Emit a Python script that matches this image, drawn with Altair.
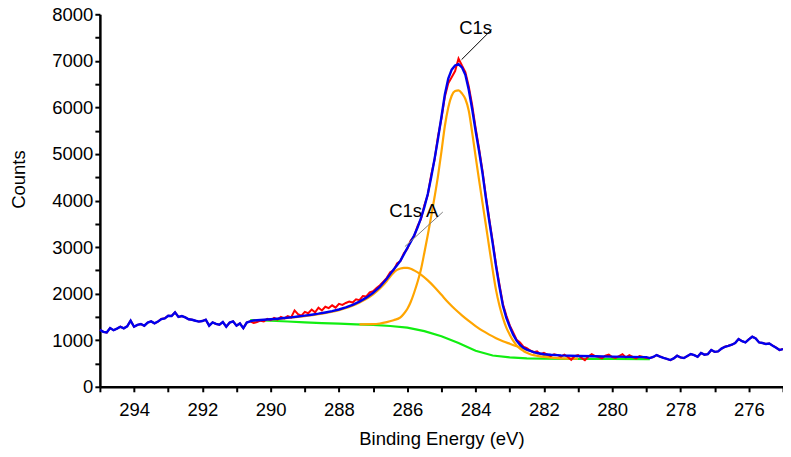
import altair as alt
import pandas as pd

# ---------------- data ----------------
# raw spectrum (red), one value per 0.1 eV from 295.0 eV down to 275.0 eV
data_counts = [
    1225, 1180, 1165, 1262, 1215, 1250, 1290, 1255, 1300, 1419,
    1290, 1330, 1348, 1312, 1380, 1405, 1362, 1400, 1455, 1470,
    1527, 1520, 1598, 1500, 1520, 1490, 1450, 1440, 1419, 1400,
    1412, 1440, 1312, 1383, 1350, 1333, 1390, 1290, 1380, 1405,
    1312, 1360, 1260, 1380, 1405, 1370,
    1390, 1420, 1405, 1460, 1430, 1480, 1445, 1500, 1470, 1520,
    1490, 1640, 1560, 1530, 1610, 1580, 1660, 1600, 1700, 1640,
    1720, 1690, 1750, 1700, 1780, 1760, 1800, 1830, 1810, 1880,
    1860, 1950, 1940, 2030, 2050, 2120, 2180, 2260, 2340, 2460,
    2500, 2650, 2700, 2870, 2960, 3140, 3230, 3450, 3600, 3900,
    4120, 4550, 4880, 5380, 5760, 6230, 6520, 6650, 6780, 7050,
    6900, 6760, 6450, 6050, 5560, 5120, 4650, 4100, 3600, 3130,
    2620, 2190, 1780, 1530, 1320, 1170, 1010, 950, 860, 830,
    780, 740, 760, 700, 730, 690, 660, 700, 680, 650,
    690, 640, 580, 660, 680, 620, 570, 650, 700, 660,
    640, 610, 670, 690, 640, 620, 660, 700, 630, 680,
    640, 610, 660, 640, 620,
    617, 640, 682, 650, 620, 600, 574, 610, 667, 630,
    617, 660, 703, 680, 645, 725, 690, 703, 789, 750,
    760, 820, 860, 880, 903, 940, 1025, 980, 953, 1020,
    1075, 1040, 953, 940, 918, 930, 882, 840, 789, 810,
]
data_E = [round(295.0 - 0.1 * i, 1) for i in range(len(data_counts))]

# fitted envelope (blue) inside the fit region
env_E = [290.5, 290.4, 290.2, 290.0, 289.8, 289.6, 289.4, 289.2, 289.0,
         288.8, 288.6, 288.4, 288.2, 288.0, 287.8, 287.6, 287.4, 287.2, 287.0,
         286.8, 286.6, 286.5, 286.4, 286.3, 286.2, 286.1, 286.0,
         285.9, 285.8, 285.7, 285.6, 285.5, 285.4, 285.3, 285.2, 285.1, 285.0,
         284.9, 284.8, 284.7, 284.6, 284.5, 284.4, 284.3, 284.2, 284.1, 284.0,
         283.9, 283.8, 283.7, 283.6, 283.5, 283.4, 283.3, 283.2, 283.1, 283.0,
         282.9, 282.8, 282.7, 282.6, 282.5, 282.4, 282.3, 282.2,
         282.0, 281.8, 281.5, 281.0, 280.5, 280.0, 279.5, 279.0]
env_counts = [1425, 1430, 1440, 1450, 1462, 1477, 1492, 1510, 1528,
              1548, 1570, 1596, 1625, 1660, 1705, 1760, 1830, 1915, 2020,
              2150, 2320, 2420, 2520, 2610, 2710, 2840, 2980,
              3110, 3250, 3420, 3620, 3860, 4140, 4500, 4900, 5330, 5800,
              6280, 6620, 6810, 6900, 6930, 6860, 6700, 6380, 5960, 5500,
              5070, 4600, 4060, 3560, 3080, 2580, 2140, 1740, 1480, 1290,
              1120, 990, 900, 840, 800, 770, 745, 725,
              700, 688, 675, 662, 655, 648, 642, 638]

# Shirley background (green)
bg_E = [290.6, 290.0, 289.5, 289.0, 288.5, 288.0, 287.5, 287.0, 286.5, 286.0,
        285.5, 285.0, 284.5, 284.0, 283.5, 283.0, 282.5, 282.0, 281.0, 280.0, 278.9]
bg_counts = [1432, 1418, 1402, 1385, 1368, 1355, 1342, 1328, 1305, 1270,
             1195, 1085, 940, 775, 672, 630, 612, 604, 600, 598, 596]

# component C1s (narrow, orange)
c1s_E = [287.4, 287.0, 286.8, 286.6, 286.4, 286.2, 286.1, 286.0,
         285.9, 285.8, 285.7, 285.6, 285.5, 285.4, 285.3, 285.2, 285.1, 285.0,
         284.9, 284.8, 284.7, 284.6, 284.5, 284.4, 284.3, 284.2, 284.1, 284.0,
         283.9, 283.8, 283.7, 283.6, 283.5, 283.4, 283.3, 283.2, 283.1, 283.0,
         282.9, 282.8, 282.7, 282.6, 282.5, 282.4, 282.3, 282.2,
         282.0, 281.8, 281.5, 281.0]
c1s_counts = [1342, 1345, 1360, 1390, 1430, 1490, 1570, 1670,
              1820, 2020, 2250, 2520, 2880, 3260, 3660, 4080, 4530, 5050,
              5600, 6000, 6250, 6350, 6366, 6300, 6180, 5930, 5460, 4950,
              4450, 3960, 3480, 2990, 2510, 2070, 1740, 1480, 1270, 1120,
              990, 890, 820, 770, 730, 700, 680, 665,
              640, 625, 612, 603]

# component C1s A (broad, orange)
c1sa_E = [290.5, 290.0, 289.5, 289.0, 288.5, 288.0, 287.5, 287.0,
          286.8, 286.6, 286.5, 286.4, 286.3, 286.2, 286.1, 286.0,
          285.9, 285.8, 285.6, 285.4, 285.2, 285.0,
          284.8, 284.6, 284.4, 284.2, 284.0,
          283.8, 283.6, 283.4, 283.2, 283.0,
          282.8, 282.6, 282.4, 282.2, 282.0, 281.8]
c1sa_counts = [1425, 1445, 1480, 1518, 1570, 1645, 1775, 1985,
               2110, 2270, 2370, 2450, 2510, 2540, 2555, 2553,
               2535, 2500, 2410, 2285, 2140, 1975,
               1810, 1665, 1535, 1415, 1305,
               1205, 1120, 1045, 980, 925,
               872, 822, 773, 727, 686, 655]

# peak labels and their leader lines
label_text = ["C1s", "C1s A"]
label_E = [284.0, 285.81]
label_counts = [7700, 3770]
leader_E1 = [284.41, 286.07]
leader_c1 = [7026, 3011]
leader_E2 = [283.53, 284.96]
leader_c2 = [7671, 3753]
leader_color = ["black", "#808080"]

x_ticks = list(range(275, 296))
y_ticks = [0, 500, 1000, 1500, 2000, 2500, 3000, 3500, 4000,
           4500, 5000, 5500, 6000, 6500, 7000, 7500, 8000]

# ---------------- frames ----------------
def frame(E, c):
    return pd.DataFrame({"E": E, "counts": c})

raw_df = frame(data_E, data_counts)
left = raw_df[raw_df["E"] > 290.5]
right = raw_df[raw_df["E"] < 279.0]
blue_df = pd.concat([left, frame(env_E, env_counts), right], ignore_index=True)
bg_df = frame(bg_E, bg_counts)
c1s_df = frame(c1s_E, c1s_counts)
c1sa_df = frame(c1sa_E, c1sa_counts)
lab_df = pd.DataFrame({"t": label_text, "E": label_E, "counts": label_counts})
lead_df = pd.DataFrame({"E1": leader_E1, "c1": leader_c1, "E2": leader_E2,
                        "c2": leader_c2, "col": leader_color})

FONT = "Liberation Sans"
FS = 18.5

x_scale = alt.Scale(domain=[275, 295], reverse=True, nice=False, zero=False)
y_scale = alt.Scale(domain=[0, 8000], nice=False, zero=True)

x_axis = alt.Axis(
    values=x_ticks,
    labelExpr="datum.value % 2 == 0 ? format(datum.value, 'd') : ''",
    grid=False, domainColor="black", domainWidth=2.5,
    tickColor="black", tickWidth=2, tickSize=5,
    labelFont=FONT, labelFontSize=FS, labelColor="black",
    labelPadding=9, labelFlush=False, labelOverlap=False,
    title="Binding Energy (eV)", titleFont=FONT, titleFontSize=FS,
    titleFontWeight="normal", titleColor="black",
    titleX=342, titleY=58, titleBaseline="alphabetic", titleAlign="center",
)
y_axis = alt.Axis(
    values=y_ticks,
    labelExpr="datum.value % 1000 == 0 ? format(datum.value, 'd') : ''",
    grid=False, domainColor="black", domainWidth=2.5,
    tickColor="black", tickWidth=2, tickSize=5,
    labelFont=FONT, labelFontSize=FS, labelColor="black",
    labelPadding=2, labelFlush=False, labelOverlap=False,
    title="Counts", titleFont=FONT, titleFontSize=FS,
    titleFontWeight="normal", titleColor="black", titleAngle=270,
    titleX=-75, titleY=165, titleBaseline="alphabetic", titleAlign="center",
)

X = alt.X("E:Q", scale=x_scale, axis=x_axis)
Y = alt.Y("counts:Q", scale=y_scale, axis=y_axis)

green = alt.Chart(bg_df).mark_line(color="#11ee11", strokeWidth=2.2).encode(x=X, y=Y)
broad = alt.Chart(c1sa_df).mark_line(color="#ffa500", strokeWidth=2.2, interpolate="monotone").encode(x=X, y=Y)
narrow = alt.Chart(c1s_df).mark_line(color="#ffa500", strokeWidth=2.2, interpolate="monotone").encode(x=X, y=Y)
red = alt.Chart(raw_df).mark_line(color="#ff0000", strokeWidth=2).encode(x=X, y=Y)
blue = alt.Chart(blue_df).mark_line(color="#0000ee", strokeWidth=2.4).encode(x=X, y=Y)

leaders = alt.Chart(lead_df).mark_rule(strokeWidth=1).encode(
    x=alt.X("E1:Q", scale=x_scale, axis=x_axis),
    y=alt.Y("c1:Q", scale=y_scale, axis=y_axis),
    x2="E2:Q", y2="c2:Q",
    color=alt.Color("col:N", scale=None),
)
labels = alt.Chart(lab_df).mark_text(
    font=FONT, fontSize=FS, color="black", align="center", baseline="middle"
).encode(x=X, y=Y, text="t:N")

chart = alt.layer(green, broad, narrow, red, blue, leaders, labels).properties(
    width=684, height=373,
    autosize=alt.AutoSizeParams(type="none"),
    padding={"left": 92, "top": 6, "right": 0, "bottom": 62},
    background="white",
).configure_view(strokeWidth=0)

chart.save("out.html", embed_options={"renderer": "svg", "actions": False})
